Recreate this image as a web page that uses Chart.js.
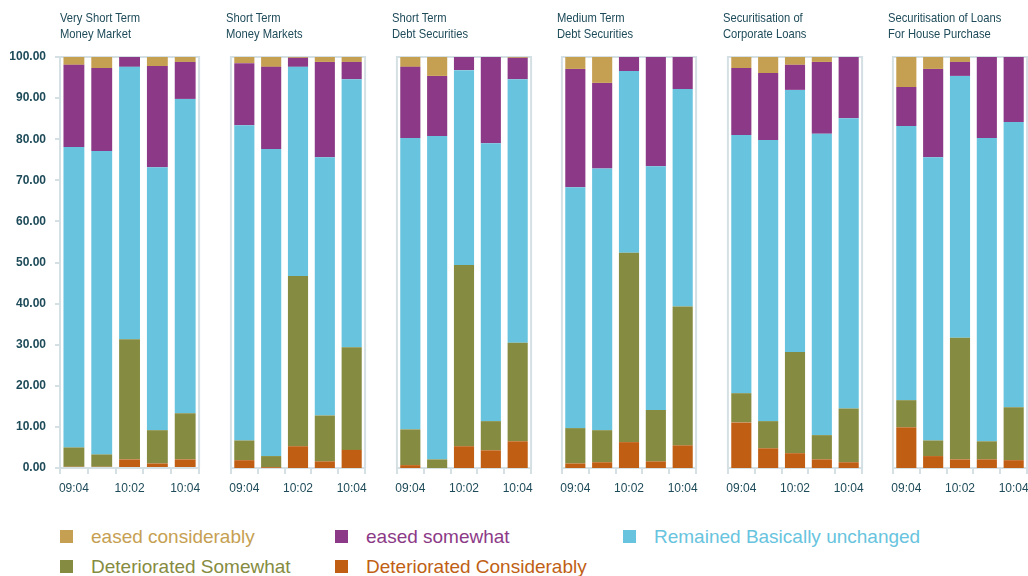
<!DOCTYPE html>
<html>
<head>
<meta charset="utf-8">
<script src="https://cdn.jsdelivr.net/npm/chart.js@4/dist/chart.umd.min.js"></script>
<style>
  html, body { margin: 0; padding: 0; background: #ffffff; overflow: hidden; width: 1028px; height: 576px; }
  .panel { position: absolute; top: 0; height: 500px; }
  .title { position: absolute; top: 10px; font-family: "Liberation Sans", Arial, sans-serif; font-size: 13.5px; line-height: 16px; color: #1e4b59; white-space: nowrap; transform: scaleX(0.83); transform-origin: left top; }
  .legend { position: absolute; font-family: "Liberation Sans", Arial, sans-serif; font-size: 19px; white-space: nowrap; }
  .legend .box { position: absolute; width: 13px; height: 13px; }
  .legend .txt { position: absolute; line-height: 22px; }
</style>
</head>
<body>
<script>
// ---------- DATA ----------
const categories = ["09:04", "10:01", "10:02", "10:03", "10:04"];
const panelTitles = [
  ["Very Short Term", "Money Market"],
  ["Short Term", "Money Markets"],
  ["Short Term", "Debt Securities"],
  ["Medium Term", "Debt Securities"],
  ["Securitisation of", "Corporate Loans"],
  ["Securitisation of Loans", "For House Purchase"]
];
const seriesNames = ["Deteriorated Considerably", "Deteriorated Somewhat", "Remained Basically unchanged", "eased somewhat", "eased considerably"];
const yTicks = [0, 10, 20, 30, 40, 50, 60, 70, 80, 90, 100];

// values per panel (5 quarters each)
const deterioratedConsiderably = [
  [0.3, 0.3, 2.1, 1.1, 2.1],
  [1.9, 0.2, 5.3, 1.6, 4.4],
  [0.7, 0.0, 5.3, 4.3, 6.5],
  [1.1, 1.4, 6.3, 1.6, 5.5],
  [11.1, 4.8, 3.6, 2.1, 1.4],
  [9.9, 2.9, 2.1, 2.1, 1.9]
];
const deterioratedSomewhat = [
  [4.7, 3.0, 29.2, 8.1, 11.2],
  [4.8, 2.7, 41.4, 11.2, 25.0],
  [8.7, 2.1, 44.1, 7.1, 24.0],
  [8.6, 7.8, 46.1, 12.5, 33.8],
  [7.1, 6.6, 24.6, 5.9, 13.1],
  [6.6, 3.8, 29.6, 4.4, 12.9]
];
const remainedUnchanged = [
  [73.1, 73.8, 66.3, 64.0, 76.5],
  [76.7, 74.7, 50.9, 62.8, 65.2],
  [70.9, 78.7, 47.4, 67.6, 64.1],
  [58.6, 63.7, 44.2, 59.3, 52.9],
  [62.8, 68.4, 63.8, 73.3, 70.6],
  [66.7, 68.9, 63.7, 73.8, 69.4]
];
const easedSomewhat = [
  [20.0, 20.2, 2.4, 24.6, 9.0],
  [15.1, 20.0, 2.2, 23.2, 4.2],
  [17.3, 14.6, 3.2, 21.0, 5.2],
  [28.8, 20.8, 3.4, 26.6, 7.8],
  [16.3, 16.3, 6.1, 17.5, 14.9],
  [9.5, 21.5, 3.4, 19.7, 15.8]
];
const easedConsiderably = [
  [1.9, 2.7, 0.0, 2.2, 1.2],
  [1.5, 2.4, 0.2, 1.2, 1.2],
  [2.4, 4.6, 0.0, 0.0, 0.2],
  [2.9, 6.3, 0.0, 0.0, 0.0],
  [2.7, 3.9, 1.9, 1.2, 0.0],
  [7.3, 2.9, 1.2, 0.0, 0.0]
];

// ---------- STYLE ----------
const seriesColors = ["#c05f14", "#858b40", "#68c4de", "#8c3a87", "#c6a052"];
const textColor = "#1e4b59";
const frameColor = "#d5e0e4";
const panelLefts = [60, 226, 392, 557, 723, 888];
const plotWidth = 140;
const plotTop = 57;
const plotBottom = 468;
const canvasHeight = 500;

const seriesData = [deterioratedConsiderably, deterioratedSomewhat, remainedUnchanged, easedSomewhat, easedConsiderably];

Chart.defaults.font.family = '"Liberation Sans", Arial, sans-serif';
Chart.defaults.color = textColor;

const framePlugin = {
  id: 'frame',
  beforeDatasetsDraw(chart) {
    const a = chart.chartArea, ctx = chart.ctx;
    ctx.save();
    ctx.strokeStyle = frameColor;
    ctx.lineWidth = 2;
    ctx.beginPath();
    ctx.moveTo(a.left, a.bottom);
    ctx.lineTo(a.left, a.top);
    ctx.lineTo(a.right, a.top);
    ctx.lineTo(a.right, a.bottom);
    ctx.stroke();
    ctx.restore();
  }
};

panelLefts.forEach((left, p) => {
  const first = p === 0;
  const yWidth = first ? 60 : 0;
  const padL = first ? 0 : 4;
  const padR = 8;
  const canvasLeft = left - yWidth - padL;
  const canvasWidth = yWidth + padL + plotWidth + padR;

  const wrap = document.createElement('div');
  wrap.className = 'panel';
  wrap.style.left = canvasLeft + 'px';
  wrap.style.width = canvasWidth + 'px';
  const cv = document.createElement('canvas');
  wrap.appendChild(cv);
  document.body.appendChild(wrap);

  const t = document.createElement('div');
  t.className = 'title';
  t.style.left = left + 'px';
  t.innerHTML = panelTitles[p][0] + '<br>' + panelTitles[p][1];
  document.body.appendChild(t);

  new Chart(cv, {
    type: 'bar',
    data: {
      labels: categories,
      datasets: seriesNames.map((name, s) => ({
        label: name,
        data: seriesData[s][p],
        backgroundColor: seriesColors[s],
        borderWidth: 0,
        categoryPercentage: 1.0,
        barPercentage: 0.75
      }))
    },
    options: {
      responsive: true,
      maintainAspectRatio: false,
      animation: false,
      events: [],
      layout: { padding: { left: padL, right: padR, top: plotTop, bottom: 0 } },
      plugins: { legend: { display: false }, tooltip: { enabled: false }, title: { display: false } },
      scales: {
        x: {
          stacked: true,
          offset: true,
          grid: { display: true, drawOnChartArea: false, drawTicks: true, tickLength: 6, color: frameColor, lineWidth: 2, offset: true },
          border: { display: true, color: frameColor, width: 2 },
          ticks: {
            autoSkip: false, maxRotation: 0, minRotation: 0, padding: 7,
            color: textColor,
            font: { size: 12 },
            callback: (v, i) => (i % 2 === 0 ? categories[i] : '')
          },
          afterFit: (scale) => { scale.height = canvasHeight - plotBottom; }
        },
        y: {
          stacked: true,
          display: first,
          min: 0, max: 100,
          afterBuildTicks: (scale) => { scale.ticks = yTicks.map(v => ({ value: v })); },
          grid: { display: true, drawOnChartArea: false, drawTicks: true, tickLength: 5, color: frameColor, lineWidth: 2 },
          border: { display: true, color: frameColor, width: 2 },
          ticks: {
            padding: 9,
            color: textColor,
            font: { size: 12, weight: 'bold' },
            callback: (v) => Number(v).toFixed(2)
          },
          afterFit: (scale) => { scale.width = yWidth; }
        }
      }
    },
    plugins: [framePlugin]
  });
});

// ---------- HTML LEGEND ----------
const legendOrder = [4, 3, 2, 1, 0];
const legendPos = [[60, 537], [335, 537], [623, 537], [60, 567], [335, 567]];
legendOrder.forEach((s, i) => {
  const [x, y] = legendPos[i];
  const d = document.createElement('div');
  d.className = 'legend';
  d.style.left = x + 'px';
  d.style.top = (y - 11) + 'px';
  const b = document.createElement('div');
  b.className = 'box';
  b.style.left = '0px';
  b.style.top = '4px';
  b.style.background = seriesColors[s];
  const tx = document.createElement('div');
  tx.className = 'txt';
  tx.style.left = '31px';
  tx.style.top = '0px';
  tx.style.color = seriesColors[s];
  tx.textContent = seriesNames[s];
  d.appendChild(b);
  d.appendChild(tx);
  document.body.appendChild(d);
});
</script>
</body>
</html>
